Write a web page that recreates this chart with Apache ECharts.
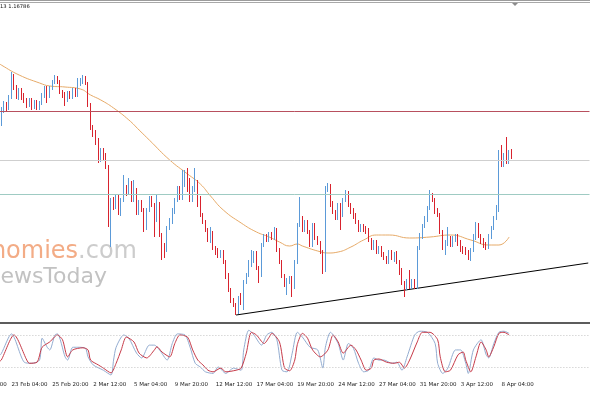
<!DOCTYPE html>
<html><head><meta charset="utf-8">
<script src="https://cdn.jsdelivr.net/npm/echarts@6/dist/echarts.min.js"></script>
<style>html,body{margin:0;padding:0;background:#fff;}#c{width:590px;height:393px;}</style>
</head><body><div id="c"></div>
<script>
// ---- data ----
const LEAD = 12;   // bars before the first visible one (only their time labels matter)
const TAIL = 30;   // empty slots on the right (chart shift)
const titleText = '13 1.16786';
const MONTHS = ['Jan','Feb','Mar','Apr','May','Jun','Jul','Aug','Sep','Oct','Nov','Dec'];
const startTime = Date.UTC(2026, 1, 18, 12);   // first category, H4 bars, weekends skipped

// [open, close, low, high]
const candles = [
[1.1710,1.1723,1.1707,1.1726],[1.1722,1.1729,1.1720,1.1732],[1.1729,1.1725,1.1722,1.1731],[1.1725,1.1736,1.1723,1.1738],
[1.1736,1.1757,1.1734,1.1761],[1.1757,1.1745,1.1743,1.1759],[1.1745,1.1736,1.1734,1.1748],[1.1736,1.1743,1.1733,1.1745],
[1.1743,1.1735,1.1733,1.1745],[1.1737,1.1733,1.1730,1.1740],[1.1733,1.1728,1.1725,1.1735],[1.1728,1.1733,1.1726,1.1735],
[1.1733,1.1726,1.1723,1.1735],[1.1726,1.1731,1.1724,1.1733],[1.1731,1.1725,1.1723,1.1733],[1.1725,1.1730,1.1723,1.1732],
[1.1730,1.1738,1.1728,1.1740],[1.1737,1.1745,1.1735,1.1747],[1.1745,1.1735,1.1730,1.1747],[1.1737,1.1745,1.1735,1.1747],
[1.1745,1.1751,1.1743,1.1753],[1.1751,1.1755,1.1749,1.1758],[1.1755,1.1751,1.1749,1.1757],[1.1751,1.1741,1.1739,1.1753],
[1.1741,1.1737,1.1735,1.1743],[1.1739,1.1730,1.1727,1.1741],[1.1733,1.1740,1.1731,1.1742],[1.1740,1.1736,1.1734,1.1742],
[1.1736,1.1743,1.1734,1.1745],[1.1743,1.1738,1.1736,1.1745],[1.1738,1.1751,1.1736,1.1755],[1.1749,1.1753,1.1747,1.1755],
[1.1751,1.1755,1.1749,1.1758],[1.1754,1.1750,1.1748,1.1757],[1.1749,1.1728,1.1726,1.1751],[1.1728,1.1705,1.1703,1.1730],
[1.1705,1.1698,1.1696,1.1708],[1.1700,1.1690,1.1688,1.1703],[1.1693,1.1673,1.1670,1.1695],[1.1673,1.1683,1.1671,1.1685],
[1.1683,1.1675,1.1673,1.1685],[1.1677,1.1666,1.1664,1.1680],[1.1666,1.1608,1.1606,1.1668],[1.1608,1.1633,1.1586,1.1635],
[1.1633,1.1626,1.1623,1.1636],[1.1626,1.1636,1.1624,1.1638],[1.1636,1.1620,1.1618,1.1638],[1.1620,1.1633,1.1617,1.1635],
[1.1633,1.1645,1.1631,1.1658],[1.1645,1.1640,1.1637,1.1648],[1.1640,1.1650,1.1638,1.1655],[1.1650,1.1633,1.1631,1.1652],
[1.1633,1.1643,1.1631,1.1653],[1.1643,1.1620,1.1618,1.1645],[1.1620,1.1631,1.1618,1.1633],[1.1631,1.1623,1.1621,1.1633],
[1.1623,1.1605,1.1601,1.1625],[1.1605,1.1623,1.1603,1.1625],[1.1623,1.1635,1.1621,1.1637],[1.1635,1.1628,1.1626,1.1637],
[1.1628,1.1613,1.1596,1.1630],[1.1613,1.1628,1.1611,1.1639],[1.1629,1.1598,1.1596,1.1631],[1.1598,1.1585,1.1573,1.1600],
[1.1587,1.1583,1.1575,1.1590],[1.1583,1.1605,1.1581,1.1607],[1.1605,1.1613,1.1603,1.1615],[1.1611,1.1623,1.1609,1.1625],
[1.1621,1.1633,1.1619,1.1635],[1.1633,1.1645,1.1631,1.1647],[1.1645,1.1635,1.1633,1.1647],[1.1635,1.1648,1.1633,1.1663],
[1.1648,1.1655,1.1646,1.1663],[1.1655,1.1643,1.1641,1.1665],[1.1653,1.1633,1.1631,1.1655],[1.1633,1.1645,1.1631,1.1647],
[1.1643,1.1653,1.1641,1.1665],[1.1651,1.1628,1.1626,1.1653],[1.1635,1.1618,1.1616,1.1637],[1.1618,1.1611,1.1609,1.1620],
[1.1611,1.1603,1.1601,1.1613],[1.1603,1.1593,1.1591,1.1605],[1.1593,1.1600,1.1590,1.1606],[1.1600,1.1585,1.1583,1.1602],
[1.1585,1.1580,1.1578,1.1587],[1.1583,1.1577,1.1575,1.1585],[1.1577,1.1581,1.1575,1.1583],[1.1581,1.1571,1.1569,1.1583],
[1.1571,1.1556,1.1554,1.1573],[1.1558,1.1543,1.1541,1.1560],[1.1543,1.1533,1.1530,1.1545],[1.1533,1.1528,1.1526,1.1535],
[1.1528,1.1521,1.1518,1.1530],[1.1521,1.1535,1.1519,1.1537],[1.1535,1.1530,1.1528,1.1540],[1.1531,1.1551,1.1523,1.1553],
[1.1551,1.1558,1.1549,1.1560],[1.1558,1.1571,1.1556,1.1573],[1.1568,1.1581,1.1566,1.1583],[1.1573,1.1580,1.1570,1.1582],
[1.1580,1.1565,1.1563,1.1582],[1.1565,1.1558,1.1550,1.1567],[1.1558,1.1588,1.1556,1.1590],[1.1588,1.1597,1.1586,1.1599],
[1.1597,1.1593,1.1591,1.1599],[1.1593,1.1599,1.1591,1.1601],[1.1599,1.1595,1.1593,1.1601],[1.1595,1.1603,1.1593,1.1606],
[1.1603,1.1583,1.1581,1.1605],[1.1583,1.1571,1.1569,1.1585],[1.1571,1.1557,1.1555,1.1573],[1.1557,1.1548,1.1546,1.1559],
[1.1548,1.1553,1.1538,1.1555],[1.1551,1.1555,1.1549,1.1557],[1.1555,1.1546,1.1536,1.1557],[1.1546,1.1571,1.1544,1.1573],
[1.1571,1.1608,1.1569,1.1610],[1.1608,1.1615,1.1606,1.1636],[1.1615,1.1603,1.1601,1.1617],[1.1603,1.1611,1.1601,1.1613],
[1.1611,1.1601,1.1599,1.1613],[1.1601,1.1588,1.1586,1.1603],[1.1588,1.1608,1.1586,1.1610],[1.1608,1.1595,1.1593,1.1610],
[1.1595,1.1590,1.1588,1.1597],[1.1590,1.1581,1.1579,1.1592],[1.1581,1.1561,1.1559,1.1583],[1.1563,1.1645,1.1561,1.1647],
[1.1643,1.1648,1.1641,1.1650],[1.1647,1.1628,1.1626,1.1649],[1.1630,1.1621,1.1619,1.1632],[1.1621,1.1615,1.1613,1.1623],
[1.1615,1.1628,1.1613,1.1630],[1.1628,1.1618,1.1603,1.1630],[1.1618,1.1633,1.1616,1.1635],[1.1633,1.1640,1.1631,1.1643],
[1.1640,1.1628,1.1626,1.1642],[1.1628,1.1621,1.1619,1.1630],[1.1623,1.1616,1.1614,1.1625],[1.1618,1.1611,1.1609,1.1620],
[1.1611,1.1603,1.1601,1.1613],[1.1603,1.1607,1.1601,1.1609],[1.1607,1.1603,1.1601,1.1609],[1.1605,1.1601,1.1599,1.1607],
[1.1603,1.1593,1.1591,1.1605],[1.1593,1.1585,1.1583,1.1595],[1.1585,1.1591,1.1583,1.1593],[1.1591,1.1581,1.1579,1.1593],
[1.1581,1.1585,1.1579,1.1587],[1.1585,1.1578,1.1576,1.1587],[1.1579,1.1575,1.1573,1.1581],[1.1575,1.1571,1.1569,1.1577],
[1.1571,1.1581,1.1569,1.1583],[1.1581,1.1575,1.1573,1.1583],[1.1573,1.1579,1.1571,1.1581],[1.1580,1.1571,1.1569,1.1582],
[1.1571,1.1560,1.1558,1.1573],[1.1563,1.1550,1.1548,1.1565],[1.1550,1.1543,1.1536,1.1552],[1.1545,1.1552,1.1543,1.1554],
[1.1552,1.1546,1.1544,1.1563],[1.1546,1.1552,1.1544,1.1554],[1.1552,1.1546,1.1544,1.1554],[1.1546,1.1585,1.1544,1.1587],
[1.1585,1.1598,1.1583,1.1600],[1.1596,1.1607,1.1594,1.1609],[1.1607,1.1615,1.1605,1.1617],[1.1613,1.1625,1.1611,1.1627],
[1.1625,1.1638,1.1623,1.1643],[1.1638,1.1633,1.1631,1.1640],[1.1633,1.1621,1.1619,1.1635],[1.1623,1.1618,1.1616,1.1625],
[1.1618,1.1601,1.1599,1.1620],[1.1601,1.1585,1.1583,1.1603],[1.1583,1.1591,1.1578,1.1593],[1.1589,1.1595,1.1587,1.1606],
[1.1595,1.1588,1.1586,1.1597],[1.1588,1.1595,1.1586,1.1597],[1.1593,1.1597,1.1591,1.1599],[1.1597,1.1589,1.1587,1.1599],
[1.1591,1.1583,1.1581,1.1593],[1.1585,1.1581,1.1579,1.1587],[1.1584,1.1580,1.1578,1.1586],[1.1581,1.1575,1.1573,1.1583],
[1.1575,1.1583,1.1572,1.1585],[1.1583,1.1597,1.1581,1.1599],[1.1595,1.1605,1.1593,1.1611],[1.1605,1.1597,1.1595,1.1610],
[1.1597,1.1591,1.1589,1.1599],[1.1593,1.1587,1.1585,1.1595],[1.1589,1.1585,1.1583,1.1591],[1.1586,1.1597,1.1584,1.1599],
[1.1596,1.1605,1.1594,1.1607],[1.1605,1.1615,1.1603,1.1617],[1.1615,1.1626,1.1613,1.1628],[1.1623,1.1680,1.1621,1.1683],
[1.1680,1.1668,1.1666,1.1688],[1.1668,1.1678,1.1666,1.1680],[1.1678,1.1671,1.1669,1.1696],[1.1671,1.1680,1.1669,1.1683],
[1.1682,1.1677,1.1674,1.1684]
];

// moving average, [bar index, price]
const maPoints = [[-1,1.1770],[0,1.1768],[7,1.1758],[15,1.1750],[19,1.1747],[25,1.1746],[31,1.1744],[35,1.1738],[39,1.1733],
[44,1.1725],[50,1.1713],[54,1.1703],[58,1.1693],[66,1.1673],[73,1.1659],[78,1.1649],[82,1.1637],[87,1.1623],[94,1.1610],
[100,1.1601],[105,1.1596],[109,1.1591],[113,1.1587],[116,1.1589],[118,1.1587],[124,1.1582],[128,1.1580],[132,1.1581],
[137,1.1586],[142,1.1593],[147,1.1598],[152,1.1598],[160,1.1595],[168,1.1596],[176,1.1598],[184,1.1593],[191,1.1588],
[195,1.1588],[199,1.1596]];

// stochastic main line, [bar index, value]
const stochMain = [[-1,40],[0,45],[4,82],[9,29],[12,27],[15,33],[16,74],[18,57],[19,52],[21,80],[22,82],[25,39],[26,33],[28,57],
[30,57],[33,55],[34,39],[36,24],[40,14],[43,5],[44,33],[45,57],[48,80],[50,74],[53,46],[55,37],[58,61],[60,61],[62,52],[65,33],
[67,64],[69,82],[72,80],[74,57],[76,27],[78,20],[80,11],[83,8],[85,20],[88,8],[91,18],[94,14],[95,52],[97,89],[99,80],[102,61],
[104,80],[106,85],[108,71],[110,14],[112,11],[114,46],[116,85],[118,76],[121,57],[124,52],[126,18],[127,57],[129,85],[132,64],
[134,33],[136,64],[138,55],[140,27],[142,11],[144,14],[146,37],[148,33],[150,33],[153,27],[155,29],[157,14],[159,39],[162,80],
[164,87],[167,85],[170,64],[171,27],[173,8],[175,18],[178,52],[180,52],[182,27],[183,8],[185,52],[188,71],[190,43],[191,37],
[193,64],[195,85],[197,87],[199,83]];

// stochastic signal line, [bar index, value]
const stochSignal = [[-1,30],[0,33],[5,80],[10,33],[11,27],[14,29],[16,57],[19,67],[22,80],[24,71],[26,39],[28,52],[32,56],[34,52],
[35,33],[38,24],[40,18],[43,9],[45,27],[47,52],[49,76],[52,67],[54,46],[57,37],[60,52],[61,58],[63,48],[66,39],[68,64],[70,80],
[73,76],[75,52],[77,33],[79,24],[81,14],[83,11],[86,18],[88,11],[92,14],[94,18],[96,46],[98,85],[100,80],[103,64],[105,76],
[106,83],[109,67],[111,18],[113,13],[115,33],[116,62],[118,83],[120,74],[122,52],[125,39],[128,52],[130,80],[132,67],[134,46],
[137,61],[139,52],[141,33],[143,14],[145,18],[146,33],[148,35],[151,29],[154,27],[156,29],[158,18],[160,33],[163,67],[165,85],
[168,85],[171,71],[172,39],[174,11],[176,14],[179,43],[181,48],[182,33],[184,11],[186,39],[188,67],[190,52],[191,39],[193,58],
[195,83],[197,85],[199,80]];

const lineResist = 1.1722;
const lineMid = 1.1673;
const lineSupport = 1.1639;
const trendStart = [92, 1.1518];
const trendEnd = [230, 1.1570];
const stochLevels = [80, 20];

// ---- build ----
const pad = n => (n < 10 ? '0' : '') + n;
const total = LEAD + candles.length + TAIL;
const lastBar = LEAD + candles.length - 1;
const categories = [];
for (let t = startTime; categories.length < total; t += 4 * 3600e3) {
  const d = new Date(t), wd = d.getUTCDay();
  if (wd === 0 || wd === 6) continue;
  categories.push(d.getUTCDate() + ' ' + MONTHS[d.getUTCMonth()] + ' ' + pad(d.getUTCHours()) + ':00');
}
const shift = arr => arr.map(p => [p[0] + LEAD, p[1]]);
const BAR = 2.552;
const gridLeft = -LEAD * BAR;
const gridWidth = total * BAR;
const hLine = (v, color) => ({yAxis: v, lineStyle: {color: color, width: 1, type: 'solid'}});

const chart = echarts.init(document.getElementById('c'), null, {renderer: 'canvas'});
chart.setOption({
  animation: false,
  backgroundColor: '#ffffff',
  grid: [
    {left: gridLeft, width: gridWidth, top: 3, height: 318, containLabel: false, outerBoundsMode: 'none'},
    {left: gridLeft, width: gridWidth, top: 324.3, height: 53.4, containLabel: false, outerBoundsMode: 'none'}
  ],
  xAxis: [
    {type: 'category', gridIndex: 0, data: categories, boundaryGap: true,
     axisLine: {show: false}, axisTick: {show: false}, axisLabel: {show: false}, splitLine: {show: false}},
    {type: 'category', gridIndex: 1, data: categories, boundaryGap: true,
     axisLine: {show: false}, axisTick: {show: false}, splitLine: {show: false},
     axisLabel: {show: true, interval: i => i % 16 === 0 && i <= lastBar, align: 'left', margin: 3.5, hideOverlap: false,
       fontSize: 5.5, fontFamily: 'DejaVu Sans', color: '#222'}}
  ],
  yAxis: [
    {type: 'value', gridIndex: 0, min: 1.1512, max: 1.1830, show: false, splitLine: {show: false}},
    {type: 'value', gridIndex: 1, min: 0, max: 100, show: false, splitLine: {show: false}}
  ],
  graphic: [
    {type: 'text', x: 137, y: 252, z: 0, silent: true,
     style: {text: '{o|economies}{g|.com}', align: 'right', verticalAlign: 'middle',
       rich: {o: {fontFamily: 'DejaVu Sans', fontSize: 24, fill: '#f3ac86', color: '#f3ac86'},
              g: {fontFamily: 'DejaVu Sans', fontSize: 24, fill: '#cccccc', color: '#cccccc'}}}},
    {type: 'text', x: 107, y: 277.5, z: 0, silent: true,
     style: {text: 'NewsToday', align: 'right', verticalAlign: 'middle',
       font: '22px "DejaVu Sans"', fill: '#c2c2c2'}},
    {type: 'text', x: 0, y: 7, z: 10, silent: true,
     style: {text: titleText, align: 'left', verticalAlign: 'middle', font: '5.2px "DejaVu Sans"', fill: '#111'}},
    {type: 'rect', z: 10, silent: true, shape: {x: 0, y: 0, width: 590, height: 1}, style: {fill: '#9c9c9c'}},
    {type: 'rect', z: 10, silent: true, shape: {x: 0, y: 2, width: 590, height: 1}, style: {fill: '#a8a8a8'}},
    {type: 'polygon', z: 10, silent: true, shape: {points: [[512, 3], [518, 3], [515, 6]]}, style: {fill: '#8c8c8c'}},
    {type: 'rect', z: 10, silent: true, shape: {x: 0, y: 322, width: 590, height: 2}, style: {fill: '#5c5c5c'}}
  ],
  series: [
    {type: 'candlestick', xAxisIndex: 0, yAxisIndex: 0, z: 3,
     data: candles.map((c, i) => [i + LEAD, c[0], c[1], c[2], c[3]]),
     encode: {x: 0, y: [1, 2, 3, 4]},
     barWidth: 1.2,
     itemStyle: {color: '#5b9ad8', color0: '#d8232e', borderColor: '#5b9ad8', borderColor0: '#d8232e', borderWidth: 1}},
    {type: 'line', xAxisIndex: 0, yAxisIndex: 0, z: 2, data: shift(maPoints), smooth: 0.5, showSymbol: false,
     symbol: 'none', lineStyle: {color: '#e6aa68', width: 1},
     markLine: {silent: true, symbol: ['none', 'none'], label: {show: false}, precision: 5,
       data: [hLine(lineResist, '#b8505e'), hLine(lineMid, '#cfcfcf'), hLine(lineSupport, '#9fcbc3')]}},
    {type: 'line', xAxisIndex: 0, yAxisIndex: 0, z: 2, symbol: 'none',
     data: shift([trendStart, trendEnd]), lineStyle: {color: '#000000', width: 1}},
    {type: 'line', xAxisIndex: 1, yAxisIndex: 1, z: 3, data: shift(stochMain), smooth: 0.25, symbol: 'none',
     lineStyle: {color: '#93acd0', width: 1},
     markLine: {silent: true, symbol: ['none', 'none'], label: {show: false},
       lineStyle: {color: '#c4c4c4', width: 1, type: [1, 2]},
       data: stochLevels.map(v => ({yAxis: v}))}},
    {type: 'line', xAxisIndex: 1, yAxisIndex: 1, z: 4, data: shift(stochSignal), smooth: 0.25, symbol: 'none',
     lineStyle: {color: '#c63a48', width: 1}}
  ]
});
</script>
</body></html>
